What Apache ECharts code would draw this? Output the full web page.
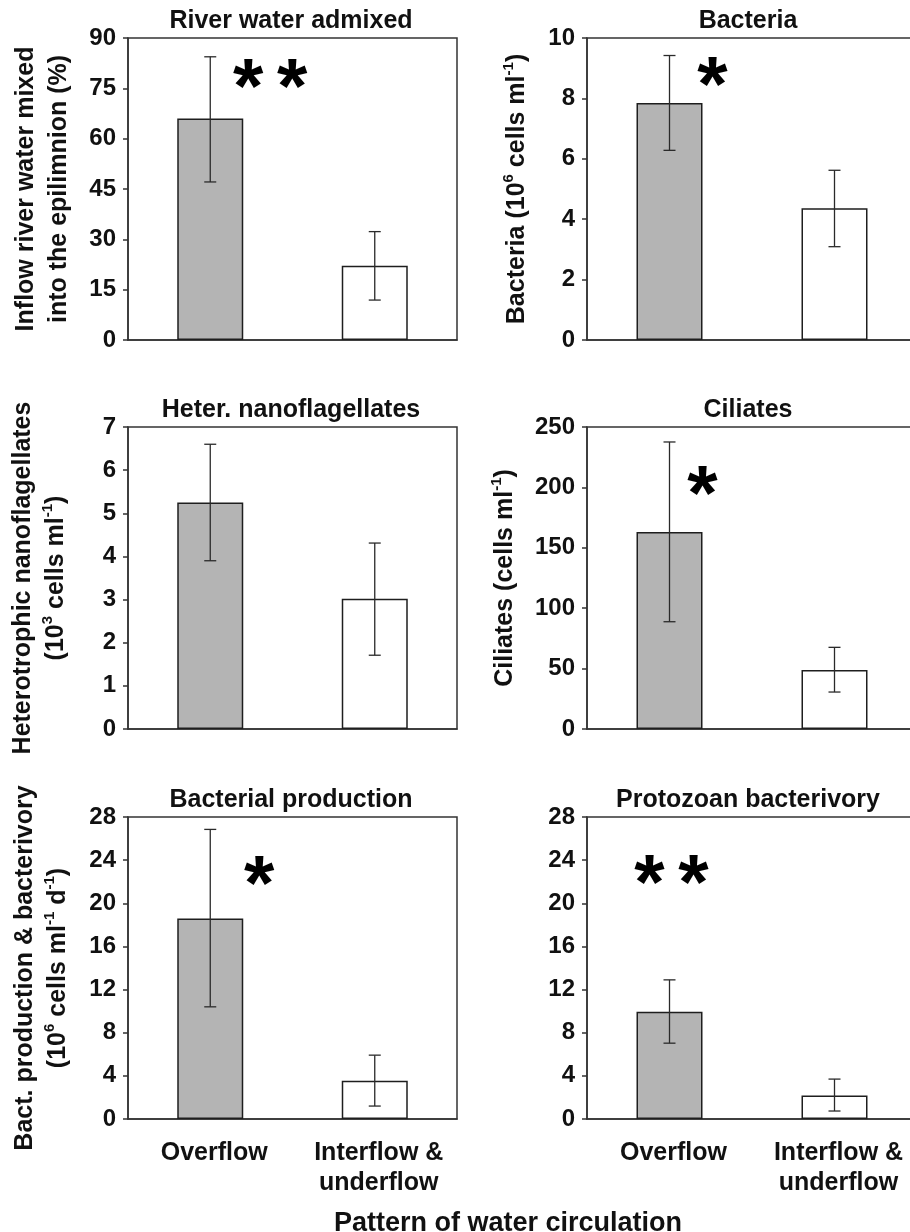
<!DOCTYPE html>
<html>
<head>
<meta charset="utf-8">
<script src="https://cdn.jsdelivr.net/npm/echarts@6/dist/echarts.min.js"></script>
<style>
  html, body { margin: 0; padding: 0; background: #fff; overflow: hidden; }
  #chart { width: 910px; height: 1232px; }
</style>
</head>
<body>
<div id="chart"></div>
<script>
// categories shared by every panel
const categories = ['Overflow', 'Interflow &\nunderflow'];

// River water admixed (%)
const riverMean = [66.0, 22.1];
const riverLow = [47.1, 11.9];
const riverHigh = [84.4, 32.3];

// Bacteria (10^6 cells/ml)
const bactMean = [7.85, 4.36];
const bactLow = [6.28, 3.09];
const bactHigh = [9.42, 5.62];

// Heterotrophic nanoflagellates (10^3 cells/ml)
const hnfMean = [5.25, 3.02];
const hnfLow = [3.9, 1.71];
const hnfHigh = [6.6, 4.31];

// Ciliates (cells/ml)
const cilMean = [163, 48.8];
const cilLow = [88.8, 30.6];
const cilHigh = [237.6, 67.6];

// Bacterial production (10^6 cells/ml/d)
const prodMean = [18.6, 3.54];
const prodLow = [10.4, 1.2];
const prodHigh = [26.85, 5.92];

// Protozoan bacterivory (10^6 cells/ml/d)
const grazMean = [9.95, 2.19];
const grazLow = [7.03, 0.74];
const grazHigh = [12.9, 3.7];

// significance stars: count and height (data units) above the overflow bar
const starCount = [2, 1, 0, 1, 1, 2];
const starValue = [78.6, 8.8, 0, 203.6, 22.8, 22.9];

const titles = ['River water admixed', 'Bacteria', 'Heter. nanoflagellates',
  'Ciliates', 'Bacterial production', 'Protozoan bacterivory'];
const yNames = [
  'Inflow river water mixed\ninto the epilimnion (%)',
  'Bacteria (10{sup|6} cells ml{sup|-1})',
  'Heterotrophic nanoflagellates\n(10{sup|3} cells ml{sup|-1})',
  'Ciliates (cells ml{sup|-1})',
  'Bact. production & bacterivory\n(10{sup|6} cells ml{sup|-1} d{sup|-1})',
  ''
];
const yMax = [90, 10, 7, 250, 28, 28];
const yStep = [15, 2, 1, 50, 4, 4];
const xLabel = 'Pattern of water circulation';

const means = [riverMean, bactMean, hnfMean, cilMean, prodMean, grazMean];
const lows = [riverLow, bactLow, hnfLow, cilLow, prodLow, grazLow];
const highs = [riverHigh, bactHigh, hnfHigh, cilHigh, prodHigh, grazHigh];

// layout
const FONT = '"Liberation Sans", Arial, Helvetica, sans-serif';
const colLeft = [128, 587];
const colWidth = [329, 330];
const titleX = [291, 748];
const rowTop = [38, 427, 817];
const plotH = 302;
const nameGaps = [52, 53, 55, 65, 53, 0];
const starDx = [60, 43, 0, 33, 49, 2];
const ink = '#1e1e1e';

const grids = [], xAxes = [], yAxes = [], series = [], titleList = [];

for (let i = 0; i < 6; i++) {
  const col = i % 2, row = Math.floor(i / 2);
  const left = colLeft[col];
  const top = rowTop[row];
  grids.push({
    left: left,
    top: top,
    width: colWidth[col],
    height: plotH,
    outerBoundsMode: 'none',
    show: true,
    borderColor: '#333',
    borderWidth: 1.5,
    backgroundColor: 'transparent'
  });
  titleList.push({
    text: titles[i],
    left: titleX[col],
    top: top - 29,
    padding: 0,
    textAlign: 'center',
    textStyle: { fontFamily: FONT, fontSize: 25, fontWeight: 'bold', color: '#111' }
  });
  xAxes.push({
    type: 'category',
    gridIndex: i,
    data: categories,
    axisLine: { lineStyle: { color: '#333', width: 1.5 } },
    axisTick: { alignWithLabel: true, length: 6, lineStyle: { color: '#333', width: 1.5 } },
    axisLabel: {
      show: row === 2,
      interval: 0,
      hideOverlap: false,
      margin: 19,
      padding: [0, 0, 0, 8],
      fontFamily: FONT,
      fontSize: 25,
      fontWeight: 'bold',
      color: '#111',
      lineHeight: 30
    },
    splitLine: { show: false }
  });
  yAxes.push({
    type: 'value',
    gridIndex: i,
    min: 0,
    max: yMax[i],
    interval: yStep[i],
    name: yNames[i],
    nameLocation: 'middle',
    nameGap: nameGaps[i],
    nameTextStyle: {
      fontFamily: FONT,
      fontSize: 25,
      fontWeight: 'bold',
      color: '#111',
      lineHeight: 33,
      rich: {
        sup: { fontFamily: FONT, fontSize: 15, fontWeight: 'bold', color: '#111', verticalAlign: 'top', lineHeight: 33 }
      }
    },
    axisLine: { show: true, lineStyle: { color: '#333', width: 1.5 } },
    axisTick: { show: true, length: 5, lineStyle: { color: '#333', width: 1.5 } },
    axisLabel: { margin: 12, fontFamily: FONT, fontSize: 24, fontWeight: 'bold', color: '#111' },
    splitLine: { show: false }
  });

  series.push({
    type: 'bar',
    xAxisIndex: i,
    yAxisIndex: i,
    barWidth: 66,
    data: means[i].map((v, k) => ({
      value: v,
      itemStyle: { color: k === 0 ? '#b4b4b4' : '#ffffff', borderColor: ink, borderWidth: 1.5 }
    })),
    silent: true
  });

  series.push({
    type: 'custom',
    xAxisIndex: i,
    yAxisIndex: i,
    data: lows[i].map((lo, k) => [k, lo, highs[i][k]]),
    z: 5,
    silent: true,
    renderItem: function (params, api) {
      const lo = api.coord([api.value(0), api.value(1)]);
      const hi = api.coord([api.value(0), api.value(2)]);
      const cap = 6;
      const style = { stroke: '#2a2a2a', lineWidth: 1.3 };
      return {
        type: 'group',
        children: [
          { type: 'line', shape: { x1: hi[0], y1: hi[1], x2: lo[0], y2: lo[1] }, style: style },
          { type: 'line', shape: { x1: hi[0] - cap, y1: hi[1], x2: hi[0] + cap, y2: hi[1] }, style: style },
          { type: 'line', shape: { x1: lo[0] - cap, y1: lo[1], x2: lo[0] + cap, y2: lo[1] }, style: style }
        ]
      };
    }
  });

  if (starCount[i] > 0) {
    const n = starCount[i];
    const dx = starDx[i];
    series.push({
      type: 'custom',
      xAxisIndex: i,
      yAxisIndex: i,
      data: [[0, starValue[i]]],
      z: 6,
      silent: true,
      renderItem: function (params, api) {
        const p = api.coord([api.value(0), api.value(1)]);
        const kids = [];
        for (let s = 0; s < n; s++) {
          kids.push({
            type: 'text',
            x: p[0] + dx + (s - (n - 1) / 2) * 44,
            y: p[1] + 15,
            style: {
              text: '*',
              fontFamily: FONT,
              fontSize: 78,
              fontWeight: 'bold',
              fill: '#000',
              align: 'center',
              verticalAlign: 'middle'
            }
          });
        }
        return { type: 'group', children: kids };
      }
    });
  }
}

titleList.push({
  text: xLabel,
  left: 508,
  top: 1210,
  padding: 0,
  textAlign: 'center',
  textStyle: { fontFamily: FONT, fontSize: 27, fontWeight: 'bold', color: '#111' }
});

const chart = echarts.init(document.getElementById('chart'), null, { renderer: 'canvas' });
chart.setOption({
  animation: false,
  backgroundColor: '#ffffff',
  title: titleList,
  grid: grids,
  xAxis: xAxes,
  yAxis: yAxes,
  series: series
});
</script>
</body>
</html>
